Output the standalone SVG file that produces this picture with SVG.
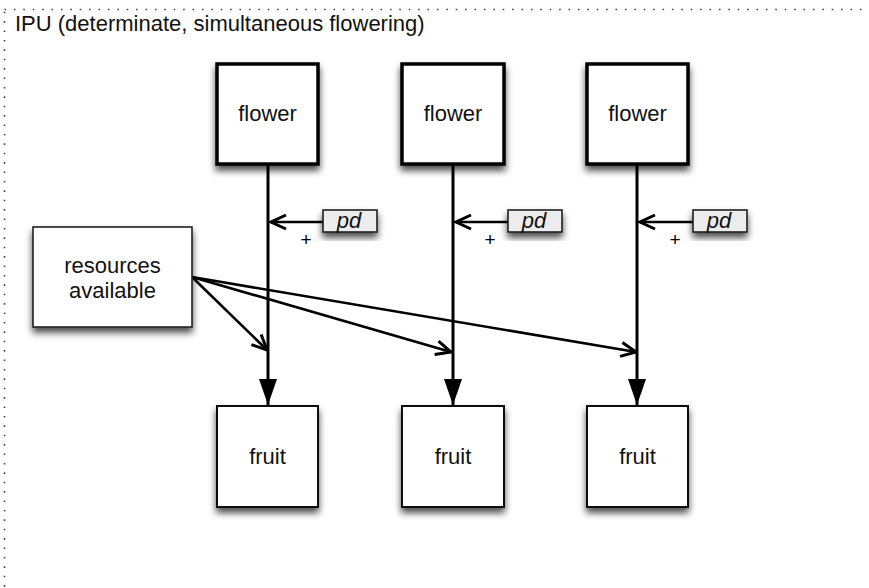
<svg xmlns="http://www.w3.org/2000/svg" width="869" height="588" viewBox="0 0 869 588">
  <defs>
    <filter id="shadow" x="-20%" y="-20%" width="140%" height="160%">
      <feDropShadow dx="0" dy="5" stdDeviation="3.5" flood-color="#000" flood-opacity="0.7"/>
    </filter>
    <marker id="solid" viewBox="0 0 26 18" refX="26" refY="9" markerWidth="26" markerHeight="18" markerUnits="userSpaceOnUse" orient="auto">
      <path d="M0,0 L26,9 L0,18 Z" fill="#000"/>
    </marker>
    <marker id="open" viewBox="0 0 18 18" refX="16" refY="9" markerWidth="18" markerHeight="18" markerUnits="userSpaceOnUse" orient="auto">
      <path d="M1,2 L16,9 L1,16" fill="none" stroke="#000" stroke-width="3" stroke-linejoin="miter"/>
    </marker>
  </defs>
  <style>
    text { font-family: "Liberation Sans", Arial, Helvetica, sans-serif; fill: #111; }
    .label { font-size: 22px; text-anchor: middle; }
    .title { font-size: 22px; }
    .pdtext { font-size: 22px; font-style: italic; text-anchor: middle; }
    .plus { font-size: 19px; text-anchor: middle; fill: #000; }
    .flower { fill: #fff; stroke: #000; stroke-width: 3.5; }
    .fruit { fill: #fff; stroke: #111; stroke-width: 2; }
    .res { fill: #fff; stroke: #222; stroke-width: 1.6; }
    .pd { fill: #ececec; stroke: #222; stroke-width: 1.6; }
    .stem { stroke: #000; stroke-width: 3; fill: none; }
    .thin { stroke: #000; stroke-width: 2.6; fill: none; }
  </style>

  <rect width="869" height="588" fill="#fff"/>

  <!-- dotted frame of the IPU group -->
  <g id="frame">
    <rect x="4.5" y="9.5" width="900" height="620" fill="none" stroke="#444" stroke-width="1.6" stroke-dasharray="1.6 7.8"/>
    <text class="title" x="15" y="31">IPU (determinate, simultaneous flowering)</text>
  </g>

  <g id="connectors">
    <!-- flower to fruit -->
    <line class="stem" x1="268" y1="165" x2="268" y2="405" marker-end="url(#solid)"/>
    <line class="stem" x1="453" y1="165" x2="453" y2="405" marker-end="url(#solid)"/>
    <line class="stem" x1="637" y1="165" x2="637" y2="405" marker-end="url(#solid)"/>
    <!-- pd influences -->
    <line class="thin" x1="323" y1="222" x2="271" y2="222" marker-end="url(#open)"/>
    <line class="thin" x1="508" y1="222" x2="456" y2="222" marker-end="url(#open)"/>
    <line class="thin" x1="693" y1="222" x2="640" y2="222" marker-end="url(#open)"/>
    <text class="plus" x="306" y="246">+</text>
    <text class="plus" x="490" y="246">+</text>
    <text class="plus" x="675" y="246">+</text>
    <!-- resources to each flower-fruit transition -->
    <line class="thin" x1="192" y1="277" x2="267" y2="350" marker-end="url(#open)"/>
    <line class="thin" x1="192" y1="277" x2="451" y2="352" marker-end="url(#open)"/>
    <line class="thin" x1="192" y1="277" x2="636" y2="352" marker-end="url(#open)"/>
  </g>

  <g id="flower1">
    <rect class="flower" x="217" y="64" width="101" height="100" filter="url(#shadow)"/>
    <text class="label" x="267.5" y="121">flower</text>
  </g>
  <g id="flower2">
    <rect class="flower" x="402" y="64" width="102" height="100" filter="url(#shadow)"/>
    <text class="label" x="453" y="121">flower</text>
  </g>
  <g id="flower3">
    <rect class="flower" x="587" y="64" width="101" height="100" filter="url(#shadow)"/>
    <text class="label" x="637.5" y="121">flower</text>
  </g>

  <g id="pd1">
    <rect class="pd" x="323" y="210" width="54" height="22" filter="url(#shadow)"/>
    <text class="pdtext" x="349" y="228">pd</text>
  </g>
  <g id="pd2">
    <rect class="pd" x="508" y="210" width="54" height="22" filter="url(#shadow)"/>
    <text class="pdtext" x="534" y="228">pd</text>
  </g>
  <g id="pd3">
    <rect class="pd" x="693" y="210" width="54" height="22" filter="url(#shadow)"/>
    <text class="pdtext" x="719" y="228">pd</text>
  </g>

  <g id="resources">
    <rect class="res" x="33" y="227" width="159" height="100" filter="url(#shadow)"/>
    <text class="label" x="112.5" y="273">resources</text>
    <text class="label" x="112.5" y="298">available</text>
  </g>

  <g id="fruit1">
    <rect class="fruit" x="217" y="406" width="101" height="101" filter="url(#shadow)"/>
    <text class="label" x="267.5" y="464">fruit</text>
  </g>
  <g id="fruit2">
    <rect class="fruit" x="402" y="406" width="102" height="101" filter="url(#shadow)"/>
    <text class="label" x="453" y="464">fruit</text>
  </g>
  <g id="fruit3">
    <rect class="fruit" x="587" y="406" width="101" height="101" filter="url(#shadow)"/>
    <text class="label" x="637.5" y="464">fruit</text>
  </g>
</svg>
